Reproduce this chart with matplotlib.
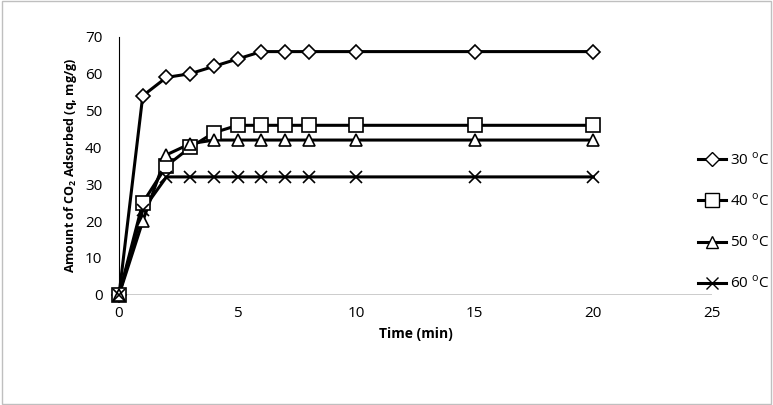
import matplotlib.pyplot as plt
from matplotlib.lines import Line2D
from matplotlib.patches import Rectangle

time = [0, 1, 2, 3, 4, 5, 6, 7, 8, 10, 15, 20]
q30 = [0, 54, 59, 60, 62, 64, 66, 66, 66, 66, 66, 66]
q40 = [0, 25, 35, 40, 44, 46, 46, 46, 46, 46, 46, 46]
q50 = [0, 20, 38, 41, 42, 42, 42, 42, 42, 42, 42, 42]
q60 = [0, 23, 32, 32, 32, 32, 32, 32, 32, 32, 32, 32]
labels = ["30 $^{\\mathregular{o}}$C", "40 $^{\\mathregular{o}}$C", "50 $^{\\mathregular{o}}$C", "60 $^{\\mathregular{o}}$C"]
markers = ["D", "s", "^", "x"]
sizes = [7, 10, 9, 9]

plt.rcParams['font.family'] = ['Open Sans', 'DejaVu Sans']
fig = plt.figure(figsize=(7.73, 4.05), dpi=100)
fig.patches.append(Rectangle((0.002, 0.003), 0.996, 0.994, transform=fig.transFigure,
                             fill=False, edgecolor="#bfbfbf", linewidth=1))
ax = fig.add_axes([0.154, 0.272, 0.767, 0.637])

handles = []
for y, lab, m, s in zip([q30, q40, q50, q60], labels, markers, sizes):
    ax.plot(time, y, color="black", linewidth=2.2, zorder=2, clip_on=False)
    ax.plot(time, y, linestyle="none", marker=m, markersize=s, markerfacecolor="white",
            markeredgecolor="black", markeredgewidth=1.2, zorder=3, clip_on=False)
    handles.append(Line2D([], [], color="black", linewidth=2.2, marker=m, markersize=s,
                          markerfacecolor="white", markeredgecolor="black", label=lab))

ax.set_xlim(0, 25)
ax.set_ylim(0, 70)
ax.set_xticks(range(0, 26, 5))
ax.set_yticks(range(0, 71, 10))
ax.spines['top'].set_visible(False)
ax.spines['right'].set_visible(False)
ax.spines['bottom'].set_visible(False)
ax.axhline(0, color="black", linewidth=1, zorder=1)
ax.tick_params(axis='both', labelsize=11, length=0)
ax.tick_params(axis='x', pad=8)
ax.tick_params(axis='y', pad=12)
ax.set_xlabel("Time (min)", fontsize=10, fontweight="bold")
ax.set_ylabel("Amount of CO$_\\mathregular{2}$ Adsorbed (q, mg/g)", fontsize=9, fontweight="bold")

fig.legend(handles=handles, loc="center left", bbox_to_anchor=(0.903, 0.452), frameon=False,
           fontsize=11, labelspacing=1.6, handlelength=1.8, handletextpad=0.3,
           borderaxespad=0, borderpad=0)
fig.savefig("out.png")
